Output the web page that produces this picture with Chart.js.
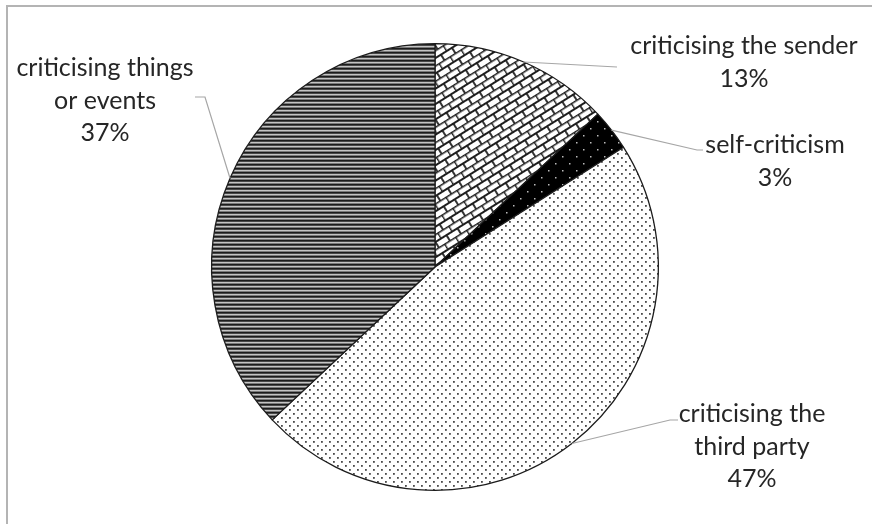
<!DOCTYPE html>
<html>
<head>
<meta charset="utf-8">
<script src="https://cdn.jsdelivr.net/npm/chart.js@4/dist/chart.umd.min.js"></script>
<style>
  html, body { margin: 0; padding: 0; background: #fff; }
  #wrap { width: 872px; height: 524px; position: relative; }
</style>
</head>
<body>
<div id="wrap"><canvas id="chart"></canvas></div>
<script>
// criticism categories, clockwise from 12 o'clock
const categories = ["criticising the sender", "self-criticism", "criticising the third party", "criticising things or events"]
const shares = [13, 3, 47, 37]
const labelLines = [
  ["criticising the sender"],
  ["self-criticism"],
  ["criticising the", "third party"],
  ["criticising things", "or events"],
]

// where each label block sits and how its leader line bends
const labelLayout = [
  { x: 744, y: 46, bend: [617, 67], end: [617, 67] },
  { x: 775, y: 145, bend: [697, 150], end: [703, 150] },
  { x: 752, y: 414, bend: [670, 420], end: [678, 420] },
  { x: 105, y: 68, bend: [205, 97], end: [195, 97] },
]

function tile(w, h, draw) {
  const c = document.createElement("canvas")
  c.width = w
  c.height = h
  const g = c.getContext("2d")
  draw(g)
  return c
}

const ctx = document.getElementById("chart").getContext("2d")

// diagonal brick
const brickTile = tile(13, 13, g => {
  g.fillStyle = "#fff"
  g.fillRect(0, 0, 13, 13)
  g.strokeStyle = "#1e1e1e"
  g.lineWidth = 1.8
  g.beginPath()
  g.moveTo(0, 0.5); g.lineTo(13, 0.5)
  g.moveTo(0, 7); g.lineTo(13, 7)
  g.moveTo(0.5, 0); g.lineTo(0.5, 7)
  g.moveTo(7, 7); g.lineTo(7, 13)
  g.stroke()
})
const brick = ctx.createPattern(brickTile, "repeat")
brick.setTransform(new DOMMatrix().rotateSelf(-32))

// white dots on black
const darkDots = ctx.createPattern(tile(14, 14, g => {
  g.fillStyle = "#000"
  g.fillRect(0, 0, 14, 14)
  g.fillStyle = "#bbb"
  g.fillRect(2, 2, 1.5, 1.5)
  g.fillRect(9, 9, 1.5, 1.5)
}), "repeat")

// fine dark dots on white
const lightDots = ctx.createPattern(tile(8, 8, g => {
  g.fillStyle = "#fff"
  g.fillRect(0, 0, 8, 8)
  g.fillStyle = "#4a4a4a"
  g.fillRect(1, 1, 1.8, 1.8)
  g.fillRect(5, 5, 1.8, 1.8)
}), "repeat")

// narrow horizontal stripes
const stripes = ctx.createPattern(tile(4, 4, g => {
  const rows = ["#1c1c1c", "#484848", "#c4c4c4", "#7a7a7a"]
  rows.forEach((c, i) => { g.fillStyle = c; g.fillRect(0, i, 4, 1) })
}), "repeat")

const frame = {
  id: "frame",
  beforeDraw(chart) {
    const g = chart.ctx
    g.save()
    g.strokeStyle = "#b4b4b4"
    g.lineWidth = 2
    g.strokeRect(7, 6, 1000, 1000)
    g.restore()
  },
}

const calloutLabels = {
  id: "calloutLabels",
  afterDatasetsDraw(chart) {
    const g = chart.ctx
    const arcs = chart.getDatasetMeta(0).data
    g.save()
    arcs.forEach((arc, i) => {
      const lay = labelLayout[i]
      const mid = (arc.startAngle + arc.endAngle) / 2
      const sx = arc.x + Math.cos(mid) * arc.outerRadius
      const sy = arc.y + Math.sin(mid) * arc.outerRadius
      g.strokeStyle = "#a6a6a6"
      g.lineWidth = 1.2
      g.beginPath()
      g.moveTo(sx, sy)
      g.lineTo(lay.bend[0], lay.bend[1])
      g.lineTo(lay.end[0], lay.end[1])
      g.stroke()

      const lines = labelLines[i].concat([shares[i] + "%"])
      g.fillStyle = "#262626"
      g.font = "25px Lato"
      g.textAlign = "center"
      g.textBaseline = "middle"
      lines.forEach((t, k) => g.fillText(t, lay.x, lay.y + k * 32.5))
    })
    g.restore()
  },
}

new Chart(ctx, {
  type: "pie",
  data: {
    labels: categories,
    datasets: [{
      data: shares,
      backgroundColor: [brick, darkDots, lightDots, stripes],
      borderColor: "#1c1c1c",
      borderWidth: 1.3,
    }],
  },
  options: {
    responsive: true,
    maintainAspectRatio: false,
    animation: false,
    layout: { padding: { left: 200, right: 202, top: 43, bottom: 33 } },
    plugins: {
      legend: { display: false },
      tooltip: { enabled: false },
    },
  },
  plugins: [frame, calloutLabels],
})
</script>
</body>
</html>
